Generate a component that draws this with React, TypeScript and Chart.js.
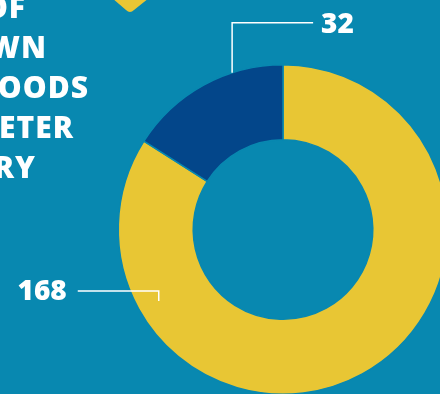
import React, { useEffect, useRef } from "react";
import { Chart, registerables } from "chart.js";

Chart.register(...registerables);

const categories = ["Other", "Highlighted"];
const values = [168, 32];
const sliceColors = ["#e8c634", "#03468a"];
const headlineFragments = ["OF", "WN", "OODS", "ETER", "RY"];
const headlineRightEdges = [25, 46, 88, 73, 35];

const BG = "#0888b0";

const decorPlugin = {
  id: "decor",
  beforeDraw(chart: any) {
    const ctx = chart.ctx as CanvasRenderingContext2D;
    ctx.save();
    // yellow rounded chevron at top
    ctx.fillStyle = "#e8c634";
    ctx.beginPath();
    ctx.moveTo(112, -2);
    ctx.lineTo(126, 10);
    ctx.quadraticCurveTo(130, 14, 134, 10);
    ctx.lineTo(149, -2);
    ctx.closePath();
    ctx.fill();
    // headline fragments
    ctx.fillStyle = "#ffffff";
    ctx.font = "800 30px 'Open Sans'";
    ctx.textAlign = "right";
    ctx.textBaseline = "alphabetic";
    (ctx as any).letterSpacing = "1px";
    headlineFragments.forEach((t, i) => {
      ctx.fillText(t, headlineRightEdges[i] + 1, 17.5 + 40 * i);
    });
    ctx.restore();
  },
  afterDatasetsDraw(chart: any) {
    const ctx = chart.ctx as CanvasRenderingContext2D;
    const meta = chart.getDatasetMeta(0);
    const data = chart.data.datasets[0].data as number[];
    ctx.save();
    ctx.strokeStyle = "#ffffff";
    ctx.fillStyle = "#ffffff";
    ctx.lineWidth = 1.5;
    ctx.font = "800 28px 'Open Sans'";

    // navy slice label (top right)
    const a1 = meta.data[1].getProps(["x", "y", "outerRadius", "innerRadius", "startAngle", "endAngle"], true);
    const ang1 = a1.endAngle - 0.314;
    const p1x = a1.x + a1.outerRadius * Math.cos(ang1);
    const p1y = a1.y + a1.outerRadius * Math.sin(ang1);
    const ly1 = a1.y - a1.outerRadius - 42;
    ctx.beginPath();
    ctx.moveTo(p1x, p1y);
    ctx.lineTo(p1x, ly1);
    ctx.lineTo(p1x + 81, ly1);
    ctx.stroke();
    ctx.textAlign = "left";
    ctx.textBaseline = "alphabetic";
    ctx.fillText(String(data[1]), p1x + 89, ly1 + 10);

    // yellow slice label (left)
    const a0 = meta.data[0].getProps(["x", "y", "outerRadius", "innerRadius", "startAngle", "endAngle"], true);
    const ang0 = a0.startAngle + 0.794 * (a0.endAngle - a0.startAngle);
    const rr = a0.outerRadius * 0.87;
    const p0x = a0.x + rr * Math.cos(ang0);
    const p0y = a0.y + rr * Math.sin(ang0);
    const ly0 = p0y - 10;
    ctx.beginPath();
    ctx.moveTo(p0x, p0y);
    ctx.lineTo(p0x, ly0);
    ctx.lineTo(p0x - 81, ly0);
    ctx.stroke();
    ctx.textAlign = "right";
    ctx.fillText(String(data[0]), p0x - 92, ly0 + 9);
    ctx.restore();
  },
};

export default function App() {
  const ref = useRef<HTMLCanvasElement>(null);
  useEffect(() => {
    if (!ref.current) return;
    const chart = new Chart(ref.current, {
      type: "doughnut",
      data: {
        labels: categories,
        datasets: [
          {
            data: values,
            backgroundColor: sliceColors,
            borderColor: BG,
            borderWidth: 1.5,
          },
        ],
      },
      options: {
        animation: false,
        responsive: false,
        maintainAspectRatio: false,
        cutout: "54.5%",
        layout: { padding: { left: 117, top: 64, right: 11, bottom: 15 } },
        plugins: { legend: { display: false }, tooltip: { enabled: false } },
      },
      plugins: [decorPlugin],
    });
    return () => chart.destroy();
  }, []);
  return (
    <div
      style={{
        position: "fixed",
        left: 0,
        top: 0,
        width: 440,
        height: 394,
        overflow: "hidden",
        background: BG,
      }}
    >
      <canvas ref={ref} width={460} height={410} style={{ position: "absolute", left: 0, top: 0, width: 460, height: 410 }} />
    </div>
  );
}
